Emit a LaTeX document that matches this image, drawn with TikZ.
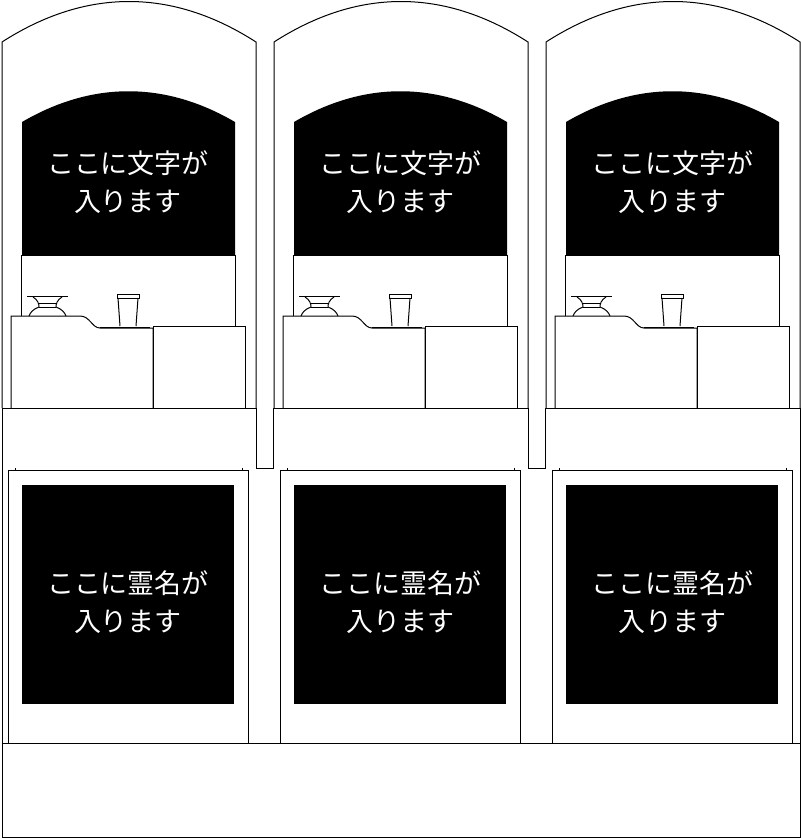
\documentclass[tikz,border=0pt]{standalone}
\usepackage{fontspec}
\newfontfamily\jp{Noto Sans CJK JP}
\begin{document}
\begin{tikzpicture}[x=1pt,y=-1pt,line width=1pt,
  lbl/.style={text=white,font=\jp\fontsize{27}{38}\selectfont,align=center,inner sep=0pt}]
\useasboundingbox (0,0) rectangle (801,839);
\foreach \o [count=\i] in {0,272,544}{
\begin{scope}[xshift=\o]
 % frame
 \draw (2,408) -- (2,42) .. controls (86,-12) and (172,-12) .. (256,42) -- (256,408);
 \draw (2,408) -- (256,408);
 % stone
 \fill (22,255) -- (22,122) .. controls (92,81) and (165,81) .. (235,122) -- (235,255) -- cycle;
 \node[lbl] (t\i) at (128,182) {ここに文字が\\入ります};
 % back panel
 \draw (21,316) -- (21,255) -- (235,255) -- (235,326);
 % altar
 \draw (11,408) -- (11,316) -- (80,316) .. controls (90,316) and (92,328) .. (100,328) -- (153,328) -- (153,408);
 \draw (153,408) -- (153,326) -- (245,326) -- (245,408);
 \draw (100,327) -- (150,327);
 % incense holder
 \draw (27,296) -- (68,296);
 \draw (33,297) .. controls (38,300) and (39,304) .. (39,307) .. controls (33,309) and (30,313) .. (29,316);
 \draw (62,297) .. controls (57,300) and (56,304) .. (56,307) .. controls (62,309) and (65,313) .. (66,316);
 \draw (39,303) -- (56,303); \draw (39,307) -- (56,307);
 % cup
 \draw (117,294) rectangle (139,298);
 \draw (118,298) -- (120,326); \draw (138,298) -- (136,326);
 % lower panel
 \draw (8,743) -- (8,470) -- (248,470) -- (248,743);
 \draw (15,468) -- (15,471); \draw (242,468) -- (242,471);
 \fill (22,485) rectangle (234,704);
 \node[lbl] (n\i) at (128,602) {ここに霊名が\\入ります};
\end{scope}}
\draw (256,408) -- (256,468) -- (273,468) -- (273,408);
\draw (528,408) -- (528,468) -- (545,468) -- (545,408);
\draw (2,408) -- (2,743);
\draw (800,408) -- (800,743);
\draw (2,743) rectangle (800,837);
\end{tikzpicture}
\end{document}
